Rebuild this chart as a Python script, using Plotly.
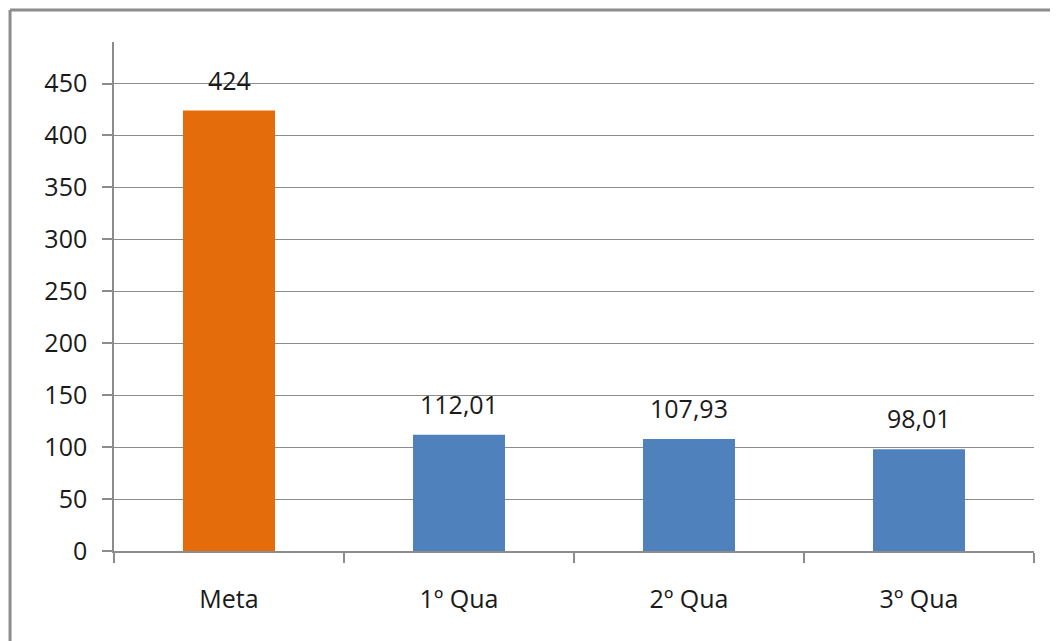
import plotly.graph_objects as go

categories = ["Meta", "1º Qua", "2º Qua", "3º Qua"]
values = [424, 112.01, 107.93, 98.01]
bar_colors = ["#E46C0A", "#4F81BD", "#4F81BD", "#4F81BD"]
y_ticks = [0, 50, 100, 150, 200, 250, 300, 350, 400, 450]

FONT = "Open Sans, Liberation Sans, Arial, sans-serif"

fig = go.Figure()
fig.add_trace(go.Bar(
    x=categories, y=values,
    marker=dict(color=bar_colors, line=dict(width=0)),
    width=0.4,
    hoverinfo="skip",
))

for c, v in zip(categories, values):
    fig.add_annotation(
        x=c, y=v, text=f"{v:g}".replace(".", ","),
        showarrow=False, yanchor="bottom", yshift=12,
        font=dict(family=FONT, size=25, color="#1a1a1a"),
    )

# outer chart frame (partially cropped, as in the reference)
frame = dict(color="#8c8c8c", width=3)
fig.add_shape(type="line", xref="paper", yref="paper",
              x0=-0.113, x1=-0.113, y0=-0.25, y1=1.0629, line=frame)
fig.add_shape(type="line", xref="paper", yref="paper",
              x0=-0.113, x1=1.1, y0=1.0629, y1=1.0629, line=frame)

fig.update_layout(
    width=1050, height=633,
    margin=dict(l=106, r=24, t=34, b=90),
    paper_bgcolor="white", plot_bgcolor="white",
    showlegend=False,
    font=dict(family=FONT, size=25, color="#1a1a1a"),
    xaxis=dict(
        type="category",
        showline=True, linecolor="#8c8c8c", linewidth=1.5,
        ticks="outside", ticklen=10, tickcolor="#8c8c8c", tickwidth=1.5,
        tickson="boundaries", showgrid=False,
        ticklabelstandoff=25,
        tickfont=dict(family=FONT, size=25, color="#1a1a1a"),
    ),
    yaxis=dict(
        range=[0, 490],
        tickvals=y_ticks,
        showline=True, linecolor="#8c8c8c", linewidth=1.5,
        ticks="outside", ticklen=10, tickcolor="#8c8c8c", tickwidth=1.5,
        showgrid=True, gridcolor="#8c8c8c", gridwidth=1,
        zeroline=False,
        ticklabelstandoff=10,
        tickfont=dict(family=FONT, size=25, color="#1a1a1a"),
    ),
)

fig.write_html("out.html")
